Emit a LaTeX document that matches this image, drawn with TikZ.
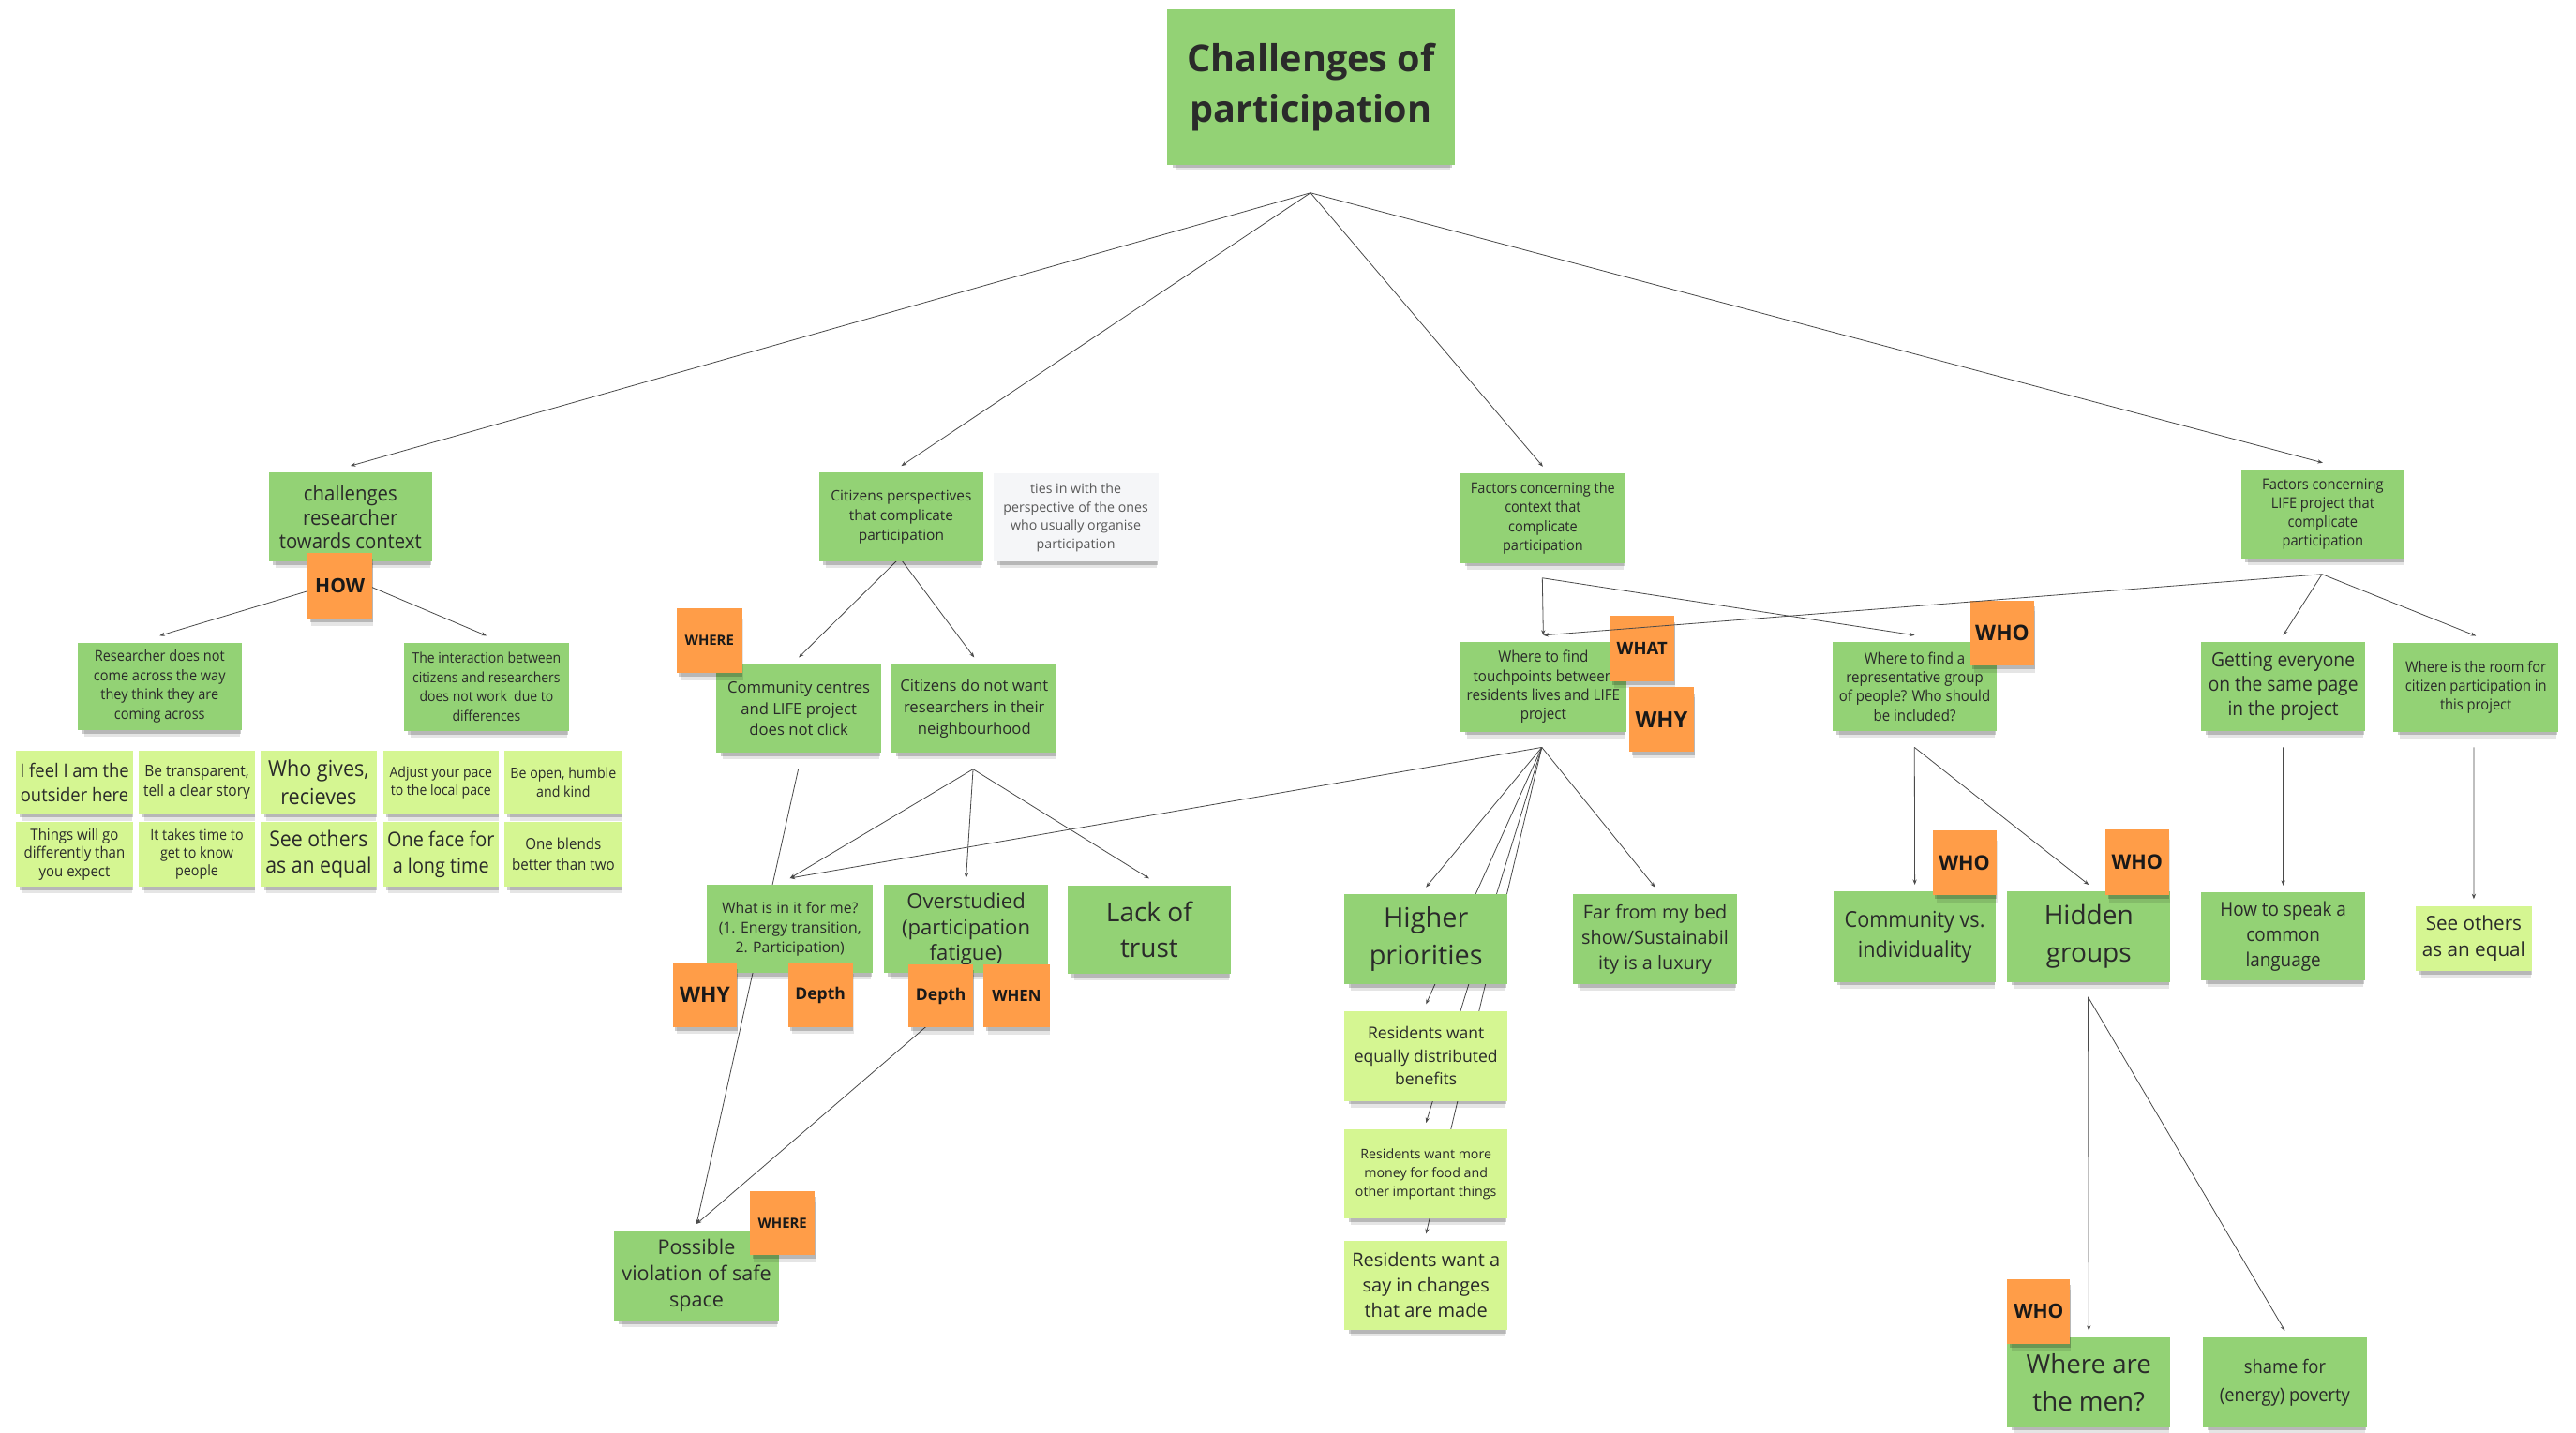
\documentclass[tikz,border=0pt]{standalone}
\usepackage{fontspec}
\setmainfont{Open Sans}
\newfontfamily\cond{Open Sans}[FakeStretch=0.92]
\usetikzlibrary{calc,shadows,arrows.meta}
\pgfdeclarelayer{bg}
\pgfdeclarelayer{fg}
\pgfdeclarelayer{top}
\pgfsetlayers{bg,main,fg,top}
\newdimen\px \px=1.4226pt
\newcommand\fz[2]{\fontsize{#1\px}{#2\px}\selectfont}
\definecolor{dgreen}{HTML}{93D275}
\definecolor{lgreen}{HTML}{D5F692}
\definecolor{orng}{HTML}{FF9D48}
\definecolor{notegray}{HTML}{F5F6F8}
\definecolor{txt}{HTML}{2A2A2A}
\definecolor{lnk}{HTML}{4A4A4A}
\tikzset{
 sticky/.style={inner sep=0pt, align=center, text=txt,
   drop shadow={shadow xshift=0.08cm, shadow yshift=-0.28cm, shadow scale=0.95, opacity=0.10, fill=black},
   drop shadow={shadow xshift=0.05cm, shadow yshift=-0.15cm, shadow scale=0.97, opacity=0.20, fill=black}},
 dg/.style={sticky, fill=dgreen},
 lg/.style={sticky, fill=lgreen},
 gy/.style={sticky, fill=notegray, text=black!65},
 tagbox/.style={sticky, fill=orng, text=black!90, font=\bfseries\fz{#1}{#1}},
 conn/.style={draw=lnk, line width=0.65pt, -{Stealth[length=4.5pt,width=3.4pt]}},
}
\newcommand\stk[7]{\node[#6, minimum width={(#4-#2)*0.05cm}, minimum height={(#5-#3)*0.05cm}] (#1) at ({(#2+#4)/2},{(#3+#5)/2}) {#7};}
\newcommand\up[1]{($(#1.north)+(0,-4)$)}
\begin{document}
\begin{tikzpicture}[x=0.05cm, y=-0.05cm]
\useasboundingbox (0,0) rectangle (1568,872);
\begin{pgfonlayer}{bg}
\fill[white] (0,0) rectangle (1568,872);
\end{pgfonlayer}

% ---------- hubs ----------
\coordinate (hub0) at (797.7,117.4);
\coordinate (hubA) at (213.4,352);
\coordinate (hubB) at (547.7,339.6);
\coordinate (hubBa) at (486,468);
\coordinate (hubBb) at (592.3,468.3);
\coordinate (hubO) at (587,605);
\coordinate (hubC) at (938.8,351.9);
\coordinate (hubCa) at (938.5,455);
\coordinate (hubCb) at (1165.3,455);
\coordinate (hubD) at (1413.4,349.6);
\coordinate (hubDa) at (1389.7,455);
\coordinate (hubDb) at (1505.8,455);
\coordinate (hubH) at (1271,607);

% ---------- sticky notes ----------
\stk{root}{710.4}{5.7}{885.6}{100.4}{dg, font=\bfseries\fz{22.6}{31}}{Challenges of\\participation}

% branch A
\stk{A}{163.5}{287.8}{263.1}{342}{dg, font=\cond\fz{12.6}{14.6}}{challenges\\researcher\\towards context}
\stk{Aone}{47.1}{391.2}{147.2}{444.5}{dg, font=\cond\fz{9}{11.7}}{Researcher does not\\come across the way\\they think they are\\coming across}
\stk{Atwo}{245.8}{391.2}{346.4}{445}{dg, font=\cond\fz{8.7}{11.7}}{The interaction between\\citizens and researchers\\does not work~ due to\\differences}
\stk{gA}{9.7}{457.1}{81}{495.5}{lg, font=\cond\fz{11.4}{15}}{I feel I am the\\outsider here}
\stk{gB}{84.3}{457.1}{155.4}{495.5}{lg, font=\cond\fz{9.6}{12}}{Be transparent,\\tell a clear story}
\stk{gC}{158.7}{457.1}{229.2}{495.5}{lg, font=\cond\fz{13.4}{17}}{Who gives,\\recieves}
\stk{gD}{233.1}{457.1}{303.6}{495.5}{lg, font=\cond\fz{8.7}{11}}{Adjust your pace\\to the local pace}
\stk{gE}{306.9}{457.1}{378.8}{495.5}{lg, font=\cond\fz{8.8}{11.5}}{Be open, humble\\and kind}
\stk{gF}{9.7}{500.6}{81}{539.6}{lg, font=\cond\fz{9.3}{11}}{Things will go\\differently than\\you expect}
\stk{gG}{84.3}{500.6}{155.4}{539.6}{lg, font=\cond\fz{8.9}{11}}{It takes time to\\get to know\\people}
\stk{gH}{158.7}{500.6}{229.2}{539.6}{lg, font=\cond\fz{13.2}{16}}{See others\\as an equal}
\stk{gI}{233.1}{500.6}{303.6}{539.6}{lg, font=\cond\fz{12.3}{16}}{One face for\\a long time}
\stk{gJ}{306.9}{500.6}{378.8}{539.6}{lg, font=\cond\fz{9.4}{12.5}}{One blends\\better than two}

% branch B
\stk{B}{498.7}{287.8}{598.5}{342}{dg, font=\fz{8.8}{12}}{Citizens perspectives\\that complicate\\participation}
\stk{Bnote}{604.6}{288.2}{705}{342}{gy, font=\fz{8.1}{11.3}}{ties in with the\\perspective of the ones\\who usually organise\\participation}
\stk{Bone}{436.1}{404.4}{536.3}{458.4}{dg, font=\fz{9.5}{13}}{Community centres\\and LIFE project\\does not click}
\stk{Btwo}{542.8}{404.4}{643.2}{458.4}{dg, font=\fz{9.5}{13}}{Citizens do not want\\researchers in their\\neighbourhood}
\stk{What}{430.4}{538.8}{531.3}{592.5}{dg, font=\fz{9}{12}}{What is in it for me?\\(1. Energy transition,\\2. Participation)}
\stk{Over}{537.9}{538.8}{638.2}{592.5}{dg, font=\fz{12.6}{15.5}}{Overstudied\\(participation\\fatigue)}
\stk{Lack}{650}{539}{749}{593}{dg, font=\fz{16}{22}}{Lack of\\trust}
\stk{Poss}{374}{749.3}{474}{804}{dg, font=\fz{12.3}{16}}{Possible\\violation of safe\\space}

% branch C
\stk{C}{889.1}{288.2}{989.2}{342.8}{dg, font=\cond\fz{9}{11.5}}{Factors concerning the\\context that\\complicate\\participation}
\stk{Tp}{889.1}{390.9}{989.7}{445.5}{dg, font=\cond\fz{9.4}{11.6}}{Where to find\\touchpoints between\\residents lives and LIFE\\project}
\stk{Rep}{1115.6}{390.9}{1215.3}{445.1}{dg, font=\cond\fz{9.3}{11.6}}{Where to find a\\representative group\\of people? Who should\\be included?}
\stk{High}{818.5}{544.3}{917.5}{599.3}{dg, font=\fz{16.5}{22.5}}{Higher\\priorities}
\stk{Far}{957.6}{544.3}{1057.2}{599.3}{dg, font=\fz{11.3}{15.5}}{Far from my bed\\show/Sustainabil\\ity is a luxury}
\stk{ResA}{818.5}{615.5}{917.5}{670.2}{lg, font=\fz{10}{14}}{Residents want\\equally distributed\\benefits}
\stk{ResB}{818.5}{687.7}{917.5}{741.9}{lg, font=\fz{8.1}{11.3}}{Residents want more\\money for food and\\other important things}
\stk{ResC}{818.5}{755.3}{917.5}{809.6}{lg, font=\fz{11.4}{15.5}}{Residents want a\\say in changes\\that are made}
\stk{Comm}{1116}{542.8}{1215}{597.8}{dg, font=\cond\fz{13.4}{18}}{Community vs.\\individuality}
\stk{Hid}{1221.8}{542.8}{1321.1}{597.8}{dg, font=\fz{16}{23}}{Hidden\\groups}
\stk{Men}{1221.8}{814.3}{1321.1}{868.9}{dg, font=\fz{15.8}{23}}{Where are\\the men?}
\stk{Shame}{1341}{814.3}{1440.5}{868.9}{dg, font=\cond\fz{11.4}{17}}{shame for\\(energy) poverty}

% branch D
\stk{D}{1364}{285.9}{1463.7}{340.1}{dg, font=\cond\fz{9.1}{11.5}}{Factors concerning\\LIFE project that\\complicate\\participation}
\stk{Get}{1339.9}{390.9}{1439.6}{445.1}{dg, font=\cond\fz{11.9}{14.8}}{Getting everyone\\on the same page\\in the project}
\stk{Room}{1456.9}{391.3}{1557.2}{445.5}{dg, font=\cond\fz{9.1}{11.6}}{Where is the room for\\citizen participation in\\this project}
\stk{How}{1339.9}{543.3}{1439.6}{597}{dg, font=\cond\fz{11.7}{15.2}}{How to speak a\\common\\language}
\stk{See}{1470.4}{551.5}{1541.1}{590.9}{lg, font=\fz{11.8}{16}}{See others\\as an equal}

% ---------- orange tags ----------
\begin{pgfonlayer}{fg}
\stk{tHow}{187.2}{336.7}{226.7}{376.6}{tagbox=12}{HOW}
\stk{tWhereA}{411.8}{370.3}{451.8}{409.9}{tagbox=8.5}{WHERE}
\stk{tWhyA}{409.4}{586.5}{448.7}{625.2}{tagbox=13}{WHY}
\stk{tDepthA}{479.7}{586.5}{519}{625.2}{tagbox=10}{Depth}
\stk{tDepthB}{553}{586.9}{592.4}{625.6}{tagbox=10}{Depth}
\stk{tWhen}{598.7}{586.9}{638.8}{625.6}{tagbox=9.6}{WHEN}
\stk{tWhereB}{456.4}{725.1}{496.1}{764}{tagbox=8.5}{WHERE}
\stk{tWhat}{980}{375.1}{1019}{414.7}{tagbox=10.5}{WHAT}
\stk{tWhyB}{991.7}{418.5}{1031}{457.5}{tagbox=13.5}{WHY}
\stk{tWhoA}{1199.2}{365.6}{1238.4}{405.2}{tagbox=13}{WHO}
\stk{tWhoB}{1176.4}{505.3}{1215.1}{545}{tagbox=12.3}{WHO}
\stk{tWhoC}{1281.5}{504.8}{1320.1}{545}{tagbox=12.3}{WHO}
\stk{tWhoD}{1221.8}{778.9}{1260.1}{818}{tagbox=12}{WHO}
\end{pgfonlayer}

% ---------- connectors (behind the notes) ----------
\begin{pgfonlayer}{bg}
\draw[conn] (hub0) -- \up{A};
\draw[conn] (hub0) -- \up{B};
\draw[conn] (hub0) -- \up{C};
\draw[conn] (hub0) -- \up{D};
\draw[conn] (hubA) -- \up{Aone};
\draw[conn] (hubA) -- \up{Atwo};
\draw[conn] (hubB) -- \up{Bone};
\draw[conn] (hubB) -- \up{Btwo};
\draw[conn] (hubBa) -- \up{Poss};
\draw[conn] (hubBb) -- \up{What};
\draw[conn] (hubBb) -- \up{Over};
\draw[conn] (hubBb) -- \up{Lack};
\draw[conn] (hubO) -- \up{Poss};
\draw[conn] (hubC) -- \up{Tp};
\draw[conn] (hubC) -- \up{Rep};
\draw[conn] (hubCa) -- \up{What};
\draw[conn] (hubCa) -- \up{High};
\draw[conn] (hubCa) -- \up{ResA};
\draw[conn] (hubCa) -- \up{ResB};
\draw[conn] (hubCa) -- \up{ResC};
\draw[conn] (hubCa) -- \up{Far};
\draw[conn] (hubCb) -- \up{Comm};
\draw[conn] (hubCb) -- \up{Hid};
\draw[conn] (hubD) -- \up{Get};
\draw[conn] (hubD) -- \up{Room};
\draw[conn] (hubDa) -- \up{How};
\draw[conn] (hubDb) -- \up{See};
\draw[conn] (hubH) -- \up{Men};
\draw[conn] (hubH) -- \up{Shame};
\end{pgfonlayer}

% this connector passes over the WHAT and WHO tags
\begin{pgfonlayer}{top}
\draw[conn] (hubD) -- \up{Tp};
\end{pgfonlayer}
\end{tikzpicture}
\end{document}
